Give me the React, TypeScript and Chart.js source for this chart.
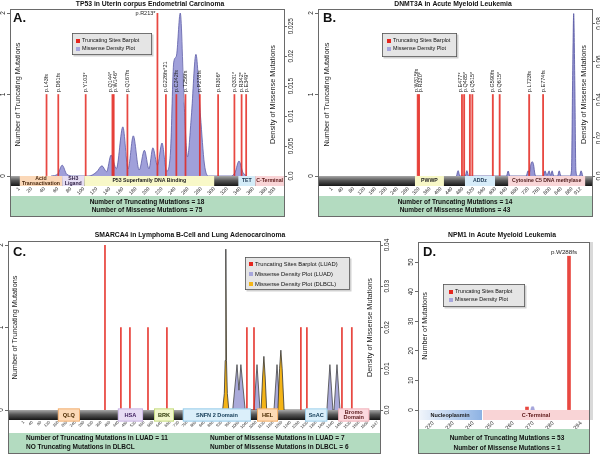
import React, { useEffect, useRef } from "react";
import { Chart, registerables } from "chart.js";

Chart.register(...registerables);

const FONT = "'Liberation Sans', Arial, Helvetica, sans-serif";

/* ================= Panel A : TP53 ================= */
const tp53Title = "TP53 in Uterin corpus Endometrial Carcinoma";
const tp53TruncPos = [43, 61, 103, 144, 146, 167, 213, 226, 242, 256, 278, 306, 331, 342, 349];
const tp53TruncCount = [1, 1, 1, 1, 1, 1, 2, 1, 1, 1, 1, 1, 1, 1, 1];
const tp53TruncLabels = ["p.L43fs", "p.D61fs", "p.Y103*", "p.Q144*", "p.W146*", "p.Q167fs", "p.R213*", "p.G226fs*21", "p.C242fs", "p.T256fs", "p.P278fs", "p.R306*", "p.Q331*", "p.R342*", "p.E349*"];
const tp53DensPos = [50, 60, 67, 74, 84, 108, 120, 128, 135, 142, 150, 160, 168, 176, 185, 193, 200, 206, 213, 220, 227, 233, 238, 242, 248, 254, 259, 265, 272, 279, 285, 291, 326, 332, 338, 344, 350];
const tp53DensVal = [0, 0.0003, 0.0018, 0.0003, 0, 0, 0.0007, 0.0017, 0.0007, 0.0035, 0.0012, 0.0082, 0.0012, 0.0067, 0.001, 0.0043, 0.0012, 0.0047, 0.0018, 0.0055, 0.0008, 0.004, 0.019, 0.02, 0.0272, 0.012, 0.0032, 0.01, 0.0203, 0.01, 0.002, 0, 0, 0.0006, 0.0025, 0.0006, 0];
const tp53XTicks = [1, 20, 40, 60, 80, 100, 120, 140, 160, 180, 200, 220, 240, 260, 280, 300, 320, 340, 360, 380, 393];
const tp53LeftTicks = [0, 1, 2];
const tp53LeftLabels = ["0", "1", "2"];
const tp53RightTicks = [0, 0.005, 0.01, 0.015, 0.02, 0.025];
const tp53RightLabels = ["0.0", "0.005", "0.01", "0.015", "0.02", "0.025"];
const tp53DomainNames = ["Acid\nTransactivation", "SH3\nLigand", "P53 Superfamily DNA Binding", "TET", "C-Terminal"];
const tp53DomainStart = [2, 67, 101, 337, 363];
const tp53DomainEnd = [67, 101, 300, 363, 407];
const tp53Summary = ["Number of Truncating Mutations = 18", "Number of Missense Mutations = 75"];

/* ================= Panel B : DNMT3A ================= */
const dnmtTitle = "DNMT3A in Acute Myeloid Leukemia";
const dnmtTruncPos = [315, 320, 477, 485, 506, 515, 590, 615, 723, 774];
const dnmtTruncCount = [1, 1, 1, 1, 1, 1, 1, 1, 1, 1];
const dnmtTruncLabels = ["p.W315fs", "p.R320*", "p.E477*", "p.Q485*", "", "p.Q515*", "p.G590fs", "p.Q615*", "p.L723fs", "p.E774fs"];
const dnmtDensPos = [457, 463, 469, 489, 495, 501, 640, 646, 652, 712, 719, 724, 729, 734, 739, 744, 749, 775, 781, 788, 796, 802, 807, 813, 827, 833, 839, 872, 878, 882, 886, 890, 894, 900, 907, 913, 919];
const dnmtDensVal = [0, 0.0028, 0, 0, 0.0028, 0, 0, 0.0026, 0, 0, 0.0028, 0.0018, 0.006, 0.0075, 0.006, 0.001, 0, 0, 0.0027, 0.0003, 0.0027, 0.0003, 0.0027, 0, 0, 0.0027, 0, 0, 0.003, 0.05, 0.0852, 0.05, 0.003, 0, 0, 0.0027, 0];
const dnmtXTicks = [1, 40, 80, 120, 160, 200, 240, 280, 320, 360, 400, 440, 480, 520, 560, 600, 640, 680, 720, 760, 800, 840, 880, 912];
const dnmtLeftTicks = [0, 1, 2];
const dnmtLeftLabels = ["0", "1", "2"];
const dnmtRightTicks = [0, 0.02, 0.04, 0.06, 0.08];
const dnmtRightLabels = ["0.0", "0.02", "0.04", "0.06", "0.08"];
const dnmtDomainNames = ["PWWP", "ADDz", "Cytosine C5 DNA methylase"];
const dnmtDomainStart = [305, 488, 646];
const dnmtDomainEnd = [411, 598, 928];
const dnmtSummary = ["Number of Truncating Mutations = 14", "Number of Missense Mutations = 43"];

/* ================= Panel C : SMARCA4 ================= */
const smarcaTitle = "SMARCA4 in Lymphoma B-Cell and Lung Adenocarcinoma";
const smarcaTruncPos = [378, 452, 494, 578, 666, 1038, 1071, 1289, 1317, 1480, 1526];
const smarcaTruncCount = [2, 1, 1, 1, 1, 1, 1, 1, 1, 1, 1];
const smarcaLuadPos = [972, 992, 1001, 1010, 1030, 1071, 1085, 1099, 1164, 1178, 1192, 1410, 1424, 1438, 1443, 1457, 1471];
const smarcaLuadVal = [0, 0.011, 0.0048, 0.011, 0, 0, 0.011, 0, 0, 0.011, 0, 0, 0.011, 0, 0, 0.011, 0];
const smarcaDlbclPos = [925, 933, 937, 940, 943, 947, 954, 1104, 1111, 1117, 1123, 1130, 1182, 1190, 1196, 1202, 1211];
const smarcaDlbclVal = [0, 0.004, 0.012, 0.039, 0.012, 0.004, 0, 0, 0.008, 0.013, 0.008, 0, 0, 0.01, 0.0145, 0.01, 0];
const smarcaXTicks = [1, 40, 80, 120, 160, 200, 240, 280, 320, 360, 400, 440, 480, 520, 560, 600, 640, 680, 720, 760, 800, 840, 880, 920, 960, 1000, 1040, 1080, 1120, 1160, 1200, 1240, 1280, 1320, 1360, 1400, 1440, 1480, 1520, 1560, 1600, 1647];
const smarcaLeftTicks = [0, 1, 2];
const smarcaLeftLabels = ["0", "1", "2"];
const smarcaRightTicks = [0, 0.01, 0.02, 0.03, 0.04];
const smarcaRightLabels = ["0.0", "0.01", "0.02", "0.03", "0.04"];
const smarcaDomainNames = ["QLQ", "HSA", "BRK", "SNFN 2 Domain", "HEL", "SnAC", "Bromo\nDomain"];
const smarcaDomainStart = [159, 438, 606, 740, 1085, 1309, 1463];
const smarcaDomainEnd = [261, 555, 699, 1057, 1183, 1412, 1607];
const smarcaSummaryLeft = ["Number of Truncating Mutations in LUAD = 11", "NO Truncating Mutations in DLBCL"];
const smarcaSummaryRight = ["Number of Missense Mutations in LUAD = 7", "Number of Missense Mutations in DLBCL = 6"];

/* ================= Panel D : NPM1 ================= */
const npmTitle = "NPM1 in Acute Myeloid Leukemia";
const npmTruncPos = [267, 288];
const npmTruncCount = [1, 52];
const npmTruncLabels = ["", "p.W288fs"];
const npmDensPos = [268.8, 269.3, 270.3, 270.8];
const npmDensVal = [0, 1.1, 1.1, 0];
const npmXTicks = [220, 230, 240, 250, 260, 270, 280, 294];
const npmLeftTicks = [0, 10, 20, 30, 40, 50];
const npmLeftLabels = ["0", "10", "20", "30", "40", "50"];
const npmDomainNames = ["Nucleoplasmin", "C-Terminal"];
const npmDomainStart = [212.5, 245];
const npmDomainEnd = [244.5, 298];
const npmSummary = ["Number of Truncating Mutations = 53", "Number of Missense Mutations = 1"];

const legend2 = ["Truncating Sites Barplot", "Missense Density Plot"];
const legend3 = ["Truncating Sites Barplot (LUAD)", "Missense Density Plot (LUAD)", "Missense Density Plot (DLBCL)"];
const yTitleTrunc = "Number of Truncating Mutations";
const y1TitleDens = "Density of Missense Mutations";
const yTitleAll = "Number of Mutations";

/* ================= styles ================= */
const RED = "#e5271f";
const BAR_RED = "rgba(228,40,32,0.85)";
const LAV = "#a6a6dc";
const GOLD = "#f4b417";
const GREEN = "#b3dbc0";

const DOMAIN_STYLE: Record<string, any> = {
  "Acid\nTransactivation": { fill: "#fbd8b8", edge: "#f2b887", ink: "#4a2a10" },
  "SH3\nLigand": { fill: "#e6def4", edge: "#cbbde8", ink: "#2a1a40" },
  "P53 Superfamily DNA Binding": { fill: "#f8f8c8", edge: "#e6e6a0", ink: "#222" },
  "TET": { fill: "#d4ecf8", edge: "#a6d2ee", ink: "#1a3550" },
  "C-Terminal": { fill: "#f9d4d6", edge: "#efb0b5", ink: "#5a1515" },
  "PWWP": { fill: "#f7f7c6", edge: "#e4e49a", ink: "#222" },
  "ADDz": { fill: "#d7ecf9", edge: "#a9d2ef", ink: "#1a3550" },
  "Cytosine C5 DNA methylase": { fill: "#f9d6d8", edge: "#efb2b8", ink: "#4a1515" },
  "QLQ": { fill: "#fcdab8", edge: "#f0a865", ink: "#4a2a00" },
  "HSA": { fill: "#e7dcf4", edge: "#c4aee2", ink: "#3a1a5a" },
  "BRK": { fill: "#f2f7cc", edge: "#bcd672", ink: "#2f3a0a" },
  "SNFN 2 Domain": { fill: "#dbeffa", edge: "#86c3e8", ink: "#123a55" },
  "HEL": { fill: "#fddbb8", edge: "#f0a455", ink: "#4a2a00" },
  "SnAC": { fill: "#dbeffa", edge: "#93cbec", ink: "#123a55" },
  "Bromo\nDomain": { fill: "#fbdadf", edge: "#f0aab3", ink: "#5a1a1a" },
  "Nucleoplasmin": { fill: "#c9dcf2", edge: "#8fb2e0", ink: "#1a1a1a", grad: ["#f3f7fc", "#8db2e3"] },
};

function vtext(ctx: CanvasRenderingContext2D, text: string, x: number, y: number, align: CanvasTextAlign, base: CanvasTextBaseline) {
  ctx.save();
  ctx.translate(x, y);
  ctx.rotate(-Math.PI / 2);
  ctx.textAlign = align;
  ctx.textBaseline = base;
  ctx.fillText(text, 0, 0);
  ctx.restore();
}

function spread(xs: number[], gap: number) {
  const out = xs.slice();
  for (let it = 0; it < 60; it++) {
    let moved = false;
    for (let i = 1; i < out.length; i++) {
      const d = out[i] - out[i - 1];
      if (d < gap - 0.01) {
        const s = (gap - d) / 2;
        out[i - 1] -= s;
        out[i] += s;
        moved = true;
      }
    }
    if (!moved) break;
  }
  return out;
}

function drawDecor(chart: any, p: any) {
  const ctx: CanvasRenderingContext2D = chart.ctx;
  const ca = chart.chartArea;
  const xs = chart.scales.x;
  const ys = chart.scales.y;
  const y1 = chart.scales.y1;
  ctx.save();

  const dTop = ca.bottom;
  const dBot = ca.bottom + p.dom.h;
  if (p.dom.backbone) {
    const g = ctx.createLinearGradient(0, dTop, 0, dBot);
    g.addColorStop(0, "#a8a8a8");
    g.addColorStop(0.45, "#575757");
    g.addColorStop(1, "#161616");
    ctx.fillStyle = g;
    ctx.fillRect(ca.left, dTop, ca.right - ca.left, dBot - dTop);
  }
  p.dom.names.forEach((name: string, i: number) => {
    const st = DOMAIN_STYLE[name];
    const x0 = Math.max(ca.left, xs.getPixelForValue(p.dom.start[i]));
    const x1 = Math.min(ca.right, xs.getPixelForValue(p.dom.end[i]));
    const e = p.dom.ext;
    let fill: any = st.fill;
    if (st.grad) {
      const g = ctx.createLinearGradient(x0, 0, x1, 0);
      g.addColorStop(0, st.grad[0]);
      g.addColorStop(1, st.grad[1]);
      fill = g;
    }
    ctx.fillStyle = fill;
    ctx.fillRect(x0, dTop - e, x1 - x0, dBot - dTop + 2 * e);
    if (p.dom.edge) {
      ctx.strokeStyle = st.edge;
      ctx.lineWidth = 0.8;
      ctx.strokeRect(x0 + 0.4, dTop - e + 0.4, x1 - x0 - 0.8, dBot - dTop + 2 * e - 0.8);
    }
    ctx.fillStyle = st.ink;
    ctx.font = `bold ${p.dom.font}px ${FONT}`;
    ctx.textAlign = "center";
    ctx.textBaseline = "middle";
    const lines = name.split("\n");
    const lh = p.dom.font * 0.95;
    const cy = (dTop + dBot) / 2;
    lines.forEach((ln: string, j: number) => ctx.fillText(ln, (x0 + x1) / 2, cy + (j - (lines.length - 1) / 2) * lh));
  });

  if (p.strip) {
    ctx.fillStyle = "#d9d9d9";
    ctx.fillRect(p.strip.l, p.strip.t, p.strip.r - p.strip.l, p.strip.b - p.strip.t);
  }

  ctx.fillStyle = GREEN;
  ctx.fillRect(ca.left, p.green.t, ca.right - ca.left, p.green.b - p.green.t);
  ctx.fillStyle = "#111";
  ctx.font = `bold 6.5px ${FONT}`;
  ctx.textBaseline = "middle";
  p.green.lines.forEach((l: any) => {
    ctx.textAlign = l.align;
    ctx.fillText(l.text, l.x, l.y);
  });

  ctx.strokeStyle = "#6a6a6a";
  ctx.lineWidth = 1;
  ctx.strokeRect(p.frame.l + 0.5, p.frame.t + 0.5, p.frame.r - p.frame.l - 1, p.frame.b - p.frame.t - 1);

  ctx.fillStyle = "#222";
  ctx.font = `6.5px ${FONT}`;
  p.yTicks.forEach((v: number, i: number) => vtext(ctx, p.yTickLabels[i], ca.left - 4, ys.getPixelForValue(v), "center", "bottom"));
  if (p.y1 && y1) {
    p.y1.ticks.forEach((v: number, i: number) => vtext(ctx, p.y1.labels[i], ca.right + 4, y1.getPixelForValue(v), "center", "top"));
  }

  if (p.bars.labels) {
    ctx.font = `${p.bars.labelFont}px ${FONT}`;
    ctx.fillStyle = "#222";
    const vert: any[] = [];
    p.bars.labels.forEach((lab: string, i: number) => {
      if (!lab) return;
      const bx = xs.getPixelForValue(p.bars.pos[i]);
      const by = ys.getPixelForValue(p.bars.count[i]);
      if (p.bars.labelMode === "top") {
        ctx.textAlign = "center";
        ctx.textBaseline = "bottom";
        ctx.fillText(lab, bx - 5, by - 1);
      } else if (p.bars.count[i] >= p.yMax - 1e-9) {
        ctx.textAlign = "right";
        ctx.textBaseline = "middle";
        ctx.fillText(lab, bx - 2, by + 0.5);
      } else {
        vert.push({ lab, bx, by });
      }
    });
    vert.sort((a, b) => a.bx - b.bx);
    const adj = spread(vert.map((v) => v.bx), p.bars.gap);
    vert.forEach((v, i) => vtext(ctx, v.lab, adj[i], v.by - 2.5, "left", "middle"));
  }

  const L = p.legend;
  ctx.fillStyle = "rgba(0,0,0,0.18)";
  ctx.fillRect(L.l + 1.5, L.t + 1.5, L.r - L.l, L.b - L.t);
  ctx.fillStyle = "#e5e5e5";
  ctx.fillRect(L.l, L.t, L.r - L.l, L.b - L.t);
  ctx.strokeStyle = "#555";
  ctx.lineWidth = 0.8;
  ctx.strokeRect(L.l + 0.4, L.t + 0.4, L.r - L.l - 0.8, L.b - L.t - 0.8);
  ctx.font = `${L.font}px ${FONT}`;
  ctx.textAlign = "left";
  ctx.textBaseline = "middle";
  L.text.forEach((t: string, i: number) => {
    ctx.fillStyle = L.colors[i];
    ctx.fillRect(L.sqX, L.rows[i] - 2, 4, 4);
    ctx.fillStyle = "#111";
    ctx.fillText(t, L.textX, L.rows[i]);
  });

  ctx.fillStyle = "#111";
  ctx.font = `bold 6.8px ${FONT}`;
  ctx.textAlign = "center";
  ctx.textBaseline = "middle";
  ctx.fillText(p.title.text, p.title.x, p.title.y);
  ctx.font = `bold 13px ${FONT}`;
  ctx.textAlign = "left";
  ctx.textBaseline = "alphabetic";
  ctx.fillText(p.letter.text, p.letter.x, p.letter.y);

  ctx.fillStyle = "#222";
  ctx.font = `7.3px ${FONT}`;
  const cyA = (ca.top + ca.bottom) / 2;
  vtext(ctx, p.yTitle.text, p.yTitle.x, cyA, "center", "middle");
  if (p.y1Title) vtext(ctx, p.y1Title.text, p.y1Title.x, cyA, "center", "middle");

  ctx.restore();
}

function buildConfig(p: any) {
  const datasets: any[] = [];
  datasets.push({
    type: "bar",
    data: p.bars.pos.map((x: number, i: number) => ({ x, y: p.bars.count[i] })),
    backgroundColor: BAR_RED,
    borderWidth: 0,
    barThickness: p.bars.thickness,
    yAxisID: "y",
    order: 0,
  });
  p.dens.forEach((d: any, k: number) =>
    datasets.push({
      type: "line",
      data: d.pos.map((x: number, i: number) => ({ x, y: d.val[i] })),
      yAxisID: d.axis,
      fill: "origin",
      backgroundColor: d.fill,
      borderColor: d.stroke,
      borderWidth: d.width,
      pointRadius: 0,
      tension: d.smooth ? 0.4 : 0,
      cubicInterpolationMode: d.smooth ? "monotone" : "default",
      order: 1 + k,
    })
  );
  const scales: any = {
    x: {
      type: "linear",
      min: p.xMin,
      max: p.xMax,
      offset: false,
      bounds: "data",
      grid: { display: false, drawTicks: false },
      border: { display: false },
      afterBuildTicks: (s: any) => {
        s.ticks = p.xTicks.map((v: number) => ({ value: v }));
      },
      afterFit: (s: any) => {
        s.height = p.h - p.area.b;
        s.paddingLeft = 0;
        s.paddingRight = 0;
      },
      ticks: {
        autoSkip: false,
        minRotation: 45,
        maxRotation: 45,
        padding: p.xTickPad,
        color: "#222",
        font: { family: FONT, size: p.xTickFont },
        callback: (v: any) => String(v),
      },
    },
    y: {
      type: "linear",
      position: "left",
      min: 0,
      max: p.yMax,
      bounds: "data",
      afterBuildTicks: (s: any) => {
        s.ticks = p.yTicks.map((v: number) => ({ value: v }));
      },
      afterFit: (s: any) => {
        s.width = p.area.l;
      },
      ticks: { display: false },
      grid: { display: true, drawOnChartArea: false, drawTicks: true, tickLength: 3, color: "#444", lineWidth: 0.8 },
      border: { display: false },
    },
  };
  if (p.y1) {
    scales.y1 = {
      type: "linear",
      position: "right",
      min: 0,
      max: p.y1.max,
      bounds: "data",
      afterBuildTicks: (s: any) => {
        s.ticks = p.y1.ticks.map((v: number) => ({ value: v }));
      },
      afterFit: (s: any) => {
        s.width = p.w - p.area.r;
      },
      ticks: { display: false },
      grid: { display: true, drawOnChartArea: false, drawTicks: true, tickLength: 3, color: "#444", lineWidth: 0.8 },
      border: { display: false },
    };
  }
  const decor = { id: "decor_" + p.key, afterDraw: (chart: any) => drawDecor(chart, p) };
  return {
    type: "bar",
    data: { datasets },
    options: {
      responsive: false,
      animation: false,
      devicePixelRatio: 1,
      events: [],
      layout: { padding: { left: 0, right: p.y1 ? 0 : p.w - p.area.r, top: p.area.t, bottom: 0 } },
      plugins: { legend: { display: false }, tooltip: { enabled: false }, title: { display: false } },
      scales,
    },
    plugins: [decor],
  };
}

const PANELS: any[] = [
  {
    key: "A", x: 0, y: 0, w: 300, h: 220,
    area: { l: 10, t: 13, r: 284, b: 176 },
    xMin: -13, xMax: 407, xTicks: tp53XTicks, xTickFont: 5, xTickPad: 10,
    yMax: 2, yTicks: tp53LeftTicks, yTickLabels: tp53LeftLabels,
    y1: { max: 0.0272, ticks: tp53RightTicks, labels: tp53RightLabels },
    bars: { pos: tp53TruncPos, count: tp53TruncCount, labels: tp53TruncLabels, thickness: 1.1, labelMode: "auto", labelFont: 5.5, gap: 4.8 },
    dens: [{ pos: tp53DensPos, val: tp53DensVal, axis: "y1", fill: "rgba(150,150,214,0.9)", stroke: "#5c5ca6", width: 0.8, smooth: true }],
    dom: { names: tp53DomainNames, start: tp53DomainStart, end: tp53DomainEnd, backbone: true, h: 10, ext: 0, edge: false, font: 5.2 },
    green: { t: 196, b: 216, lines: [{ text: tp53Summary[0], x: 147, y: 202, align: "center" }, { text: tp53Summary[1], x: 147, y: 210, align: "center" }] },
    frame: { l: 10, t: 9, r: 285, b: 217 },
    title: { text: tp53Title, x: 150, y: 4 },
    letter: { text: "A.", x: 13, y: 22 },
    yTitle: { text: yTitleTrunc, x: 18 },
    y1Title: { text: y1TitleDens, x: 273 },
    legend: { l: 72, t: 33, r: 152, b: 55, rows: [41, 49], sqX: 76, textX: 82, font: 5.4, text: legend2, colors: [RED, LAV] },
  },
  {
    key: "B", x: 300, y: 0, w: 300, h: 220,
    area: { l: 18, t: 13, r: 292, b: 176 },
    xMin: -50, xMax: 953, xTicks: dnmtXTicks, xTickFont: 5, xTickPad: 10,
    yMax: 2, yTicks: dnmtLeftTicks, yTickLabels: dnmtLeftLabels,
    y1: { max: 0.0855, ticks: dnmtRightTicks, labels: dnmtRightLabels },
    bars: { pos: dnmtTruncPos, count: dnmtTruncCount, labels: dnmtTruncLabels, thickness: 1.2, labelMode: "auto", labelFont: 5.5, gap: 4.8 },
    dens: [{ pos: dnmtDensPos, val: dnmtDensVal, axis: "y1", fill: "rgba(140,140,208,0.9)", stroke: "#5252a0", width: 0.8, smooth: true }],
    dom: { names: dnmtDomainNames, start: dnmtDomainStart, end: dnmtDomainEnd, backbone: true, h: 10, ext: 0, edge: false, font: 5.2 },
    green: { t: 196, b: 216, lines: [{ text: dnmtSummary[0], x: 155, y: 202, align: "center" }, { text: dnmtSummary[1], x: 155, y: 210, align: "center" }] },
    frame: { l: 18, t: 9, r: 293, b: 217 },
    title: { text: dnmtTitle, x: 153, y: 4 },
    letter: { text: "B.", x: 23, y: 22 },
    yTitle: { text: yTitleTrunc, x: 27 },
    y1Title: { text: y1TitleDens, x: 284 },
    legend: { l: 82, t: 33, r: 157, b: 57, rows: [41, 49], sqX: 87, textX: 93, font: 5.4, text: legend2, colors: [RED, LAV] },
  },
  {
    key: "C", x: 0, y: 220, w: 390, h: 234,
    area: { l: 8, t: 25, r: 380, b: 190 },
    xMin: -73, xMax: 1657, xTicks: smarcaXTicks, xTickFont: 4, xTickPad: 10,
    yMax: 2, yTicks: smarcaLeftTicks, yTickLabels: smarcaLeftLabels,
    y1: { max: 0.04, ticks: smarcaRightTicks, labels: smarcaRightLabels },
    bars: { pos: smarcaTruncPos, count: smarcaTruncCount, labels: null, thickness: 1.1, labelMode: "auto", labelFont: 5.5, gap: 4.8 },
    dens: [
      { pos: smarcaDlbclPos, val: smarcaDlbclVal, axis: "y1", fill: GOLD, stroke: "#333", width: 0.8, smooth: false },
      { pos: smarcaLuadPos, val: smarcaLuadVal, axis: "y1", fill: "rgba(165,165,216,0.95)", stroke: "#444", width: 0.8, smooth: false },
    ],
    dom: { names: smarcaDomainNames, start: smarcaDomainStart, end: smarcaDomainEnd, backbone: true, h: 10, ext: 1.5, edge: true, font: 5.6 },
    green: {
      t: 213, b: 234,
      lines: [
        { text: smarcaSummaryLeft[0], x: 26, y: 218.5, align: "left" },
        { text: smarcaSummaryLeft[1], x: 26, y: 227.5, align: "left" },
        { text: smarcaSummaryRight[0], x: 210, y: 218.5, align: "left" },
        { text: smarcaSummaryRight[1], x: 210, y: 227.5, align: "left" },
      ],
    },
    frame: { l: 8, t: 21, r: 381, b: 234 },
    title: { text: smarcaTitle, x: 190, y: 15 },
    letter: { text: "C.", x: 13, y: 36 },
    yTitle: { text: yTitleTrunc, x: 15 },
    y1Title: { text: y1TitleDens, x: 370 },
    legend: { l: 245, t: 37, r: 350, b: 70, rows: [44, 54, 64], sqX: 249, textX: 255, font: 5.8, text: legend3, colors: [RED, LAV, GOLD] },
  },
  {
    key: "D", x: 395, y: 220, w: 205, h: 234,
    area: { l: 23, t: 22, r: 194, b: 190 },
    xMin: 212.5, xMax: 298, xTicks: npmXTicks, xTickFont: 5.5, xTickPad: 10,
    yMax: 56.8, yTicks: npmLeftTicks, yTickLabels: npmLeftLabels,
    y1: null,
    bars: { pos: npmTruncPos, count: npmTruncCount, labels: npmTruncLabels, thickness: 3, labelMode: "top", labelFont: 6.2, gap: 4.8 },
    dens: [{ pos: npmDensPos, val: npmDensVal, axis: "y", fill: LAV, stroke: "#9a9ad6", width: 0.5, smooth: false }],
    dom: { names: npmDomainNames, start: npmDomainStart, end: npmDomainEnd, backbone: false, h: 10, ext: 0, edge: false, font: 5.5 },
    strip: { l: 194, t: 22, r: 198, b: 200 },
    green: { t: 209, b: 234, lines: [{ text: npmSummary[0], x: 112, y: 218, align: "center" }, { text: npmSummary[1], x: 112, y: 228, align: "center" }] },
    frame: { l: 23, t: 22, r: 195, b: 234 },
    title: { text: npmTitle, x: 107, y: 15 },
    letter: { text: "D.", x: 28, y: 36 },
    yTitle: { text: yTitleAll, x: 30 },
    y1Title: null,
    legend: { l: 48, t: 64, r: 130, b: 87, rows: [72, 80], sqX: 54, textX: 60, font: 5.4, text: legend2, colors: [RED, LAV] },
  },
];

function PanelChart({ p }: { p: any }) {
  const ref = useRef<HTMLCanvasElement | null>(null);
  useEffect(() => {
    if (!ref.current) return;
    const chart = new Chart(ref.current, buildConfig(p) as any);
    return () => chart.destroy();
  }, [p]);
  return (
    <canvas
      ref={ref}
      width={p.w}
      height={p.h}
      style={{ position: "absolute", left: p.x, top: p.y, width: p.w, height: p.h, display: "block" }}
    />
  );
}

export default function App() {
  return (
    <div style={{ position: "absolute", left: 0, top: 0, width: 600, height: 454, background: "#fff", overflow: "hidden" }}>
      {PANELS.map((p) => (
        <PanelChart key={p.key} p={p} />
      ))}
    </div>
  );
}
